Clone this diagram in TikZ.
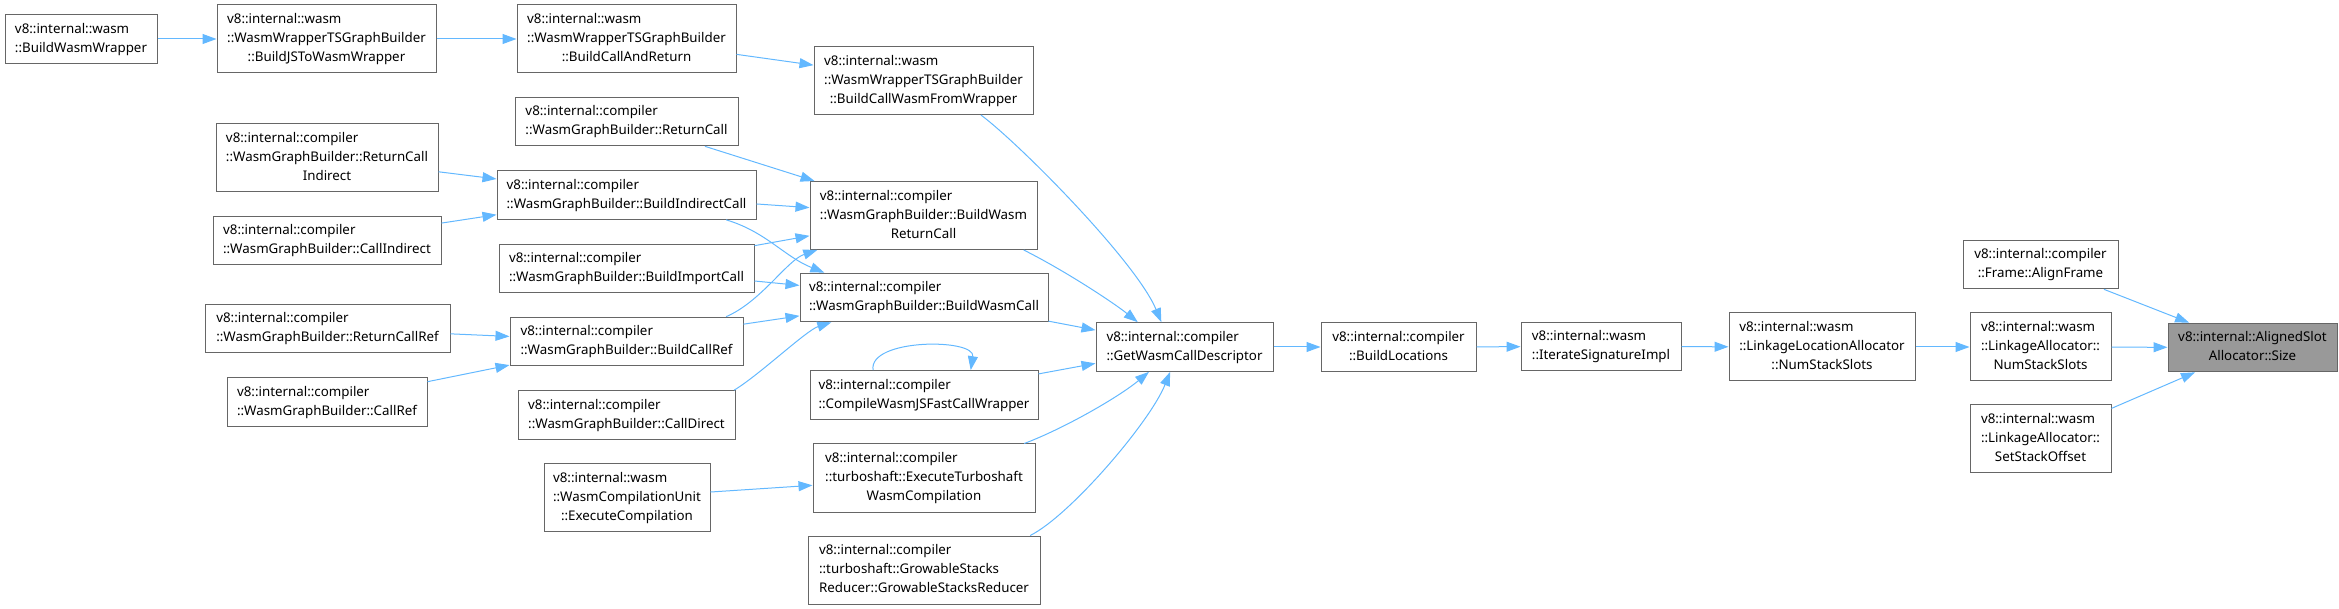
\documentclass[tikz,border=0pt]{standalone}
\usepackage{fontspec}
\setmainfont{Noto Sans}
\usetikzlibrary{arrows.meta}
\definecolor{edgeblue}{HTML}{63B8FF}
\definecolor{boxgray}{HTML}{666666}
\definecolor{focusgray}{HTML}{999999}
\newcommand{\fnl}[2]{\begin{tabular}{@{}l@{}}#1\\\multicolumn{1}{@{}c@{}}{#2}\end{tabular}}

\begin{document}
\begin{tikzpicture}[x=0.75pt,y=-0.75pt,
  fn/.style={draw=boxgray, fill=white, line width=0.75pt, inner sep=0pt, font=\fontsize{10}{14.25}\selectfont},
  two/.style={minimum height=36.5pt},
  three/.style={minimum height=51pt},
  call/.style={draw=edgeblue, line width=0.75pt, -{Triangle[length=10.5pt,width=7.5pt]}}]
  \useasboundingbox (0,0) rectangle (2339,609);

  \node[fn,two,minimum width=114pt]      (bww)   at (81,39)      {\fnl{v8::internal::wasm}{::BuildWasmWrapper}};
  \node[fn,three,minimum width=164.25pt] (bjs)   at (326.5,39)   {\fnl{v8::internal::wasm\\::WasmWrapperTSGraphBuilder}{::BuildJSToWasmWrapper}};
  \node[fn,three,minimum width=164.25pt] (bcar)  at (626.5,39)   {\fnl{v8::internal::wasm\\::WasmWrapperTSGraphBuilder}{::BuildCallAndReturn}};
  \node[fn,three,minimum width=164.25pt] (bcwfw) at (923.5,80.5) {\fnl{v8::internal::wasm\\::WasmWrapperTSGraphBuilder}{::BuildCallWasmFromWrapper}};

  \node[fn,two,minimum width=167.25pt]   (rc)    at (626.5,121.5) {\fnl{v8::internal::compiler}{::WasmGraphBuilder::ReturnCall}};
  \node[fn,three,minimum width=166.5pt]  (rci)   at (327,158)     {\fnl{v8::internal::compiler\\::WasmGraphBuilder::ReturnCall}{Indirect}};
  \node[fn,two,minimum width=194.25pt]   (bic)   at (626.5,195)   {\fnl{v8::internal::compiler}{::WasmGraphBuilder::BuildIndirectCall}};
  \node[fn,two,minimum width=171pt]      (ci)    at (327,240.5)   {\fnl{v8::internal::compiler}{::WasmGraphBuilder::CallIndirect}};
  \node[fn,two,minimum width=191.25pt]   (bimc)  at (626.5,268.5) {\fnl{v8::internal::compiler}{::WasmGraphBuilder::BuildImportCall}};
  \node[fn,two,minimum width=183.75pt]   (rcr)   at (327.5,328.5) {\fnl{v8::internal::compiler}{::WasmGraphBuilder::ReturnCallRef}};
  \node[fn,two,minimum width=174.75pt]   (bcr)   at (626.5,341.5) {\fnl{v8::internal::compiler}{::WasmGraphBuilder::BuildCallRef}};
  \node[fn,two,minimum width=150pt]      (cr)    at (327,402)     {\fnl{v8::internal::compiler}{::WasmGraphBuilder::CallRef}};
  \node[fn,two,minimum width=162.75pt]   (cd)    at (626.5,415)   {\fnl{v8::internal::compiler}{::WasmGraphBuilder::CallDirect}};
  \node[fn,three,minimum width=124.5pt]  (ec)    at (627,497.5)   {\fnl{v8::internal::wasm\\::WasmCompilationUnit}{::ExecuteCompilation}};

  \node[fn,three,minimum width=170.25pt] (bwrc)  at (923.5,215.5) {\fnl{v8::internal::compiler\\::WasmGraphBuilder::BuildWasm}{ReturnCall}};
  \node[fn,two,minimum width=186pt]      (bwc)   at (924,297.5)   {\fnl{v8::internal::compiler}{::WasmGraphBuilder::BuildWasmCall}};
  \node[fn,two,minimum width=171pt]      (cwj)   at (924,395)     {\fnl{v8::internal::compiler}{::CompileWasmJSFastCallWrapper}};
  \node[fn,three,minimum width=166.5pt]  (etw)   at (924,478)     {\fnl{v8::internal::compiler\\::turboshaft::ExecuteTurboshaft}{WasmCompilation}};
  \node[fn,three,minimum width=174pt]    (gsr)   at (924,570)     {\fnl{v8::internal::compiler\\::turboshaft::GrowableStacks}{Reducer::GrowableStacksReducer}};

  \node[fn,two,minimum width=132.75pt]   (gwcd)  at (1184.5,347)  {\fnl{v8::internal::compiler}{::GetWasmCallDescriptor}};
  \node[fn,two,minimum width=116.25pt]   (bl)    at (1398.5,347)  {\fnl{v8::internal::compiler}{::BuildLocations}};
  \node[fn,two,minimum width=120pt]      (isi)   at (1601,346.5)  {\fnl{v8::internal::wasm}{::IterateSignatureImpl}};
  \node[fn,three,minimum width=139.5pt]  (lla)   at (1822,347)    {\fnl{v8::internal::wasm\\::LinkageLocationAllocator}{::NumStackSlots}};
  \node[fn,two,minimum width=116.25pt]   (af)    at (2040.5,264.5) {\fnl{v8::internal::compiler}{::Frame::AlignFrame}};
  \node[fn,three,minimum width=105.75pt] (lans)  at (2040.5,347)  {\fnl{v8::internal::wasm\\::LinkageAllocator::}{NumStackSlots}};
  \node[fn,three,minimum width=105.75pt] (sso)   at (2040.5,439)  {\fnl{v8::internal::wasm\\::LinkageAllocator::}{SetStackOffset}};
  \node[fn,two,fill=focusgray,minimum width=126.75pt] (sz) at (2252.5,347.5) {\fnl{v8::internal::AlignedSlot}{Allocator::Size}};

  \draw[call] (bww) -- (bjs);
  \draw[call] (bjs) -- (bcar);
  \draw[call] (bcar) -- (bcwfw);
  \draw[call] (bcwfw.-31) .. controls +(40,30) and +(-25,-60) .. (gwcd.133);

  \draw[call] (rci) -- (bic);
  \draw[call] (ci) -- (bic);
  \draw[call] (rcr) -- (bcr);
  \draw[call] (cr) -- (bcr);
  \draw[call] (ec) -- (etw);

  \draw[call] (rc) -- (bwrc);
  \draw[call] (bic) -- (bwrc);
  \draw[call] (bic.-14) .. controls +(40,12) and +(-40,-16) .. (bwc.166);
  \draw[call] (bimc) -- (bwrc);
  \draw[call] (bimc) -- (bwc);
  \draw[call] (bcr.14) .. controls +(35,-15) and +(-30,10) .. (bwrc.-162);
  \draw[call] (bcr) -- (bwc);
  \draw[call] (cd.13) .. controls +(25,-15) and +(-25,8) .. (bwc.-165);

  \draw[call] (bwrc.-19) .. controls +(40,20) and +(-25,-20) .. (gwcd.152);
  \draw[call] (bwc) -- (gwcd);
  \draw[call] (cwj) -- (gwcd);
  \draw[call] (cwj.154) .. controls +(-5,-32) and +(5,-32) .. (cwj.28);
  \draw[call] (etw.19) .. controls +(40,-15) and +(-30,25) .. (gwcd.-145);
  \draw[call] (gsr.18) .. controls +(40,-20) and +(-20,50) .. (gwcd.-120);

  \draw[call] (gwcd) -- (bl);
  \draw[call] (bl) -- (isi);
  \draw[call] (isi) -- (lla);
  \draw[call] (lla) -- (lans);
  \draw[call] (lans) -- (sz);
  \draw[call] (af) -- (sz);
  \draw[call] (sso) -- (sz);
\end{tikzpicture}
\end{document}
